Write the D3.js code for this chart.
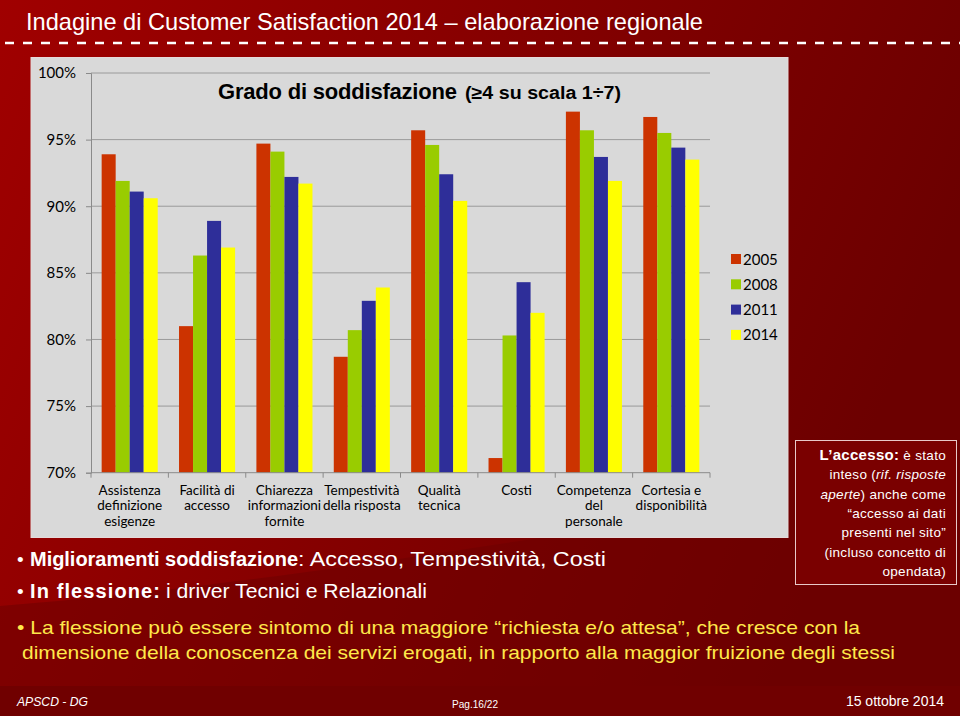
<!DOCTYPE html>
<html>
<head>
<meta charset="utf-8">
<script src="https://cdn.jsdelivr.net/npm/d3@7"></script>
<style>
  html, body { margin: 0; padding: 0; background: #7a0000; }
  svg { display: block; }
</style>
</head>
<body>
<div id="chart"></div>
<script>
// values (percent of answers >= 4)
const categories = [
  "Assistenza|definizione|esigenze",
  "Facilità di|accesso",
  "Chiarezza|informazioni|fornite",
  "Tempestività|della risposta",
  "Qualità|tecnica",
  "Costi",
  "Competenza|del|personale",
  "Cortesia e|disponibilità"
];
const years = ["2005", "2008", "2011", "2014"];
const v2005 = [93.9, 81.0, 94.7, 78.7, 95.7, 71.1, 97.1, 96.7];
const v2008 = [91.9, 86.3, 94.1, 80.7, 94.6, 80.3, 95.7, 95.5];
const v2011 = [91.1, 88.9, 92.2, 82.9, 92.4, 84.3, 93.7, 94.4];
const v2014 = [90.6, 86.9, 91.7, 83.9, 90.4, 82.0, 91.9, 93.5];
const yTicks = [70, 75, 80, 85, 90, 95, 100];
const colors = ["#cc3300", "#99cc00", "#2e2e99", "#ffff00"];

const series = [v2005, v2008, v2011, v2014];
const width = 960, height = 716;

const svg = d3.select("#chart").append("svg")
    .attr("width", width)
    .attr("height", height);

// background
const defs = svg.append("defs");
const bg = defs.append("linearGradient").attr("id", "bg")
    .attr("x1", "0").attr("y1", "0").attr("x2", "1").attr("y2", "0.3");
bg.append("stop").attr("offset", "0").attr("stop-color", "#a00000");
bg.append("stop").attr("offset", "0.55").attr("stop-color", "#830000");
bg.append("stop").attr("offset", "1").attr("stop-color", "#6c0000");
svg.append("rect").attr("width", width).attr("height", height).attr("fill", "url(#bg)");

// soft diagonal band behind the bullets
svg.append("path")
    .attr("d", "M0,606 C200,590 420,560 960,470 L960,716 L0,716 Z")
    .attr("fill", "#6e0000").attr("opacity", 0.55);
svg.append("rect").attr("x", 0).attr("y", 686).attr("width", width).attr("height", 30)
    .attr("fill", "#700000");

const sans = "'Liberation Sans', Arial, sans-serif";

// text squeezed/stretched to the width measured on the reference
function fitText(x, yy, str, len, size, color, opts) {
  opts = opts || {};
  return svg.append("text")
      .attr("x", x).attr("y", yy)
      .attr("fill", color)
      .attr("textLength", len)
      .attr("lengthAdjust", opts.glyphs ? "spacingAndGlyphs" : "spacing")
      .style("font-family", sans)
      .style("font-size", size + "px")
      .style("font-weight", opts.bold ? "bold" : "normal")
      .style("font-style", opts.italic ? "italic" : "normal")
      .text(str);
}

// header
fitText(26, 30, "Indagine di Customer Satisfaction 2014 – elaborazione regionale", 677, 24, "#fff", { glyphs: true });
svg.append("line")
    .attr("x1", 5).attr("x2", width).attr("y1", 43).attr("y2", 43)
    .attr("stroke", "#fff").attr("stroke-width", 2.5)
    .attr("stroke-dasharray", "9,9");

// chart panel
svg.append("rect")
    .attr("x", 31).attr("y", 57.5).attr("width", 757).attr("height", 480)
    .attr("fill", "#d9d9d9").attr("stroke", "#e6dada").attr("stroke-width", 1);

const x0 = d3.scaleBand().domain(categories).range([91, 710]);
const x1 = d3.scaleBand().domain(years).range([0, x0.bandwidth()]).paddingOuter(0.76);
const y = d3.scaleLinear().domain([70, 100]).range([472.7, 73]);

const calibri = "Lato, 'Open Sans', sans-serif";

// gridlines
svg.append("g").selectAll("line").data(yTicks.slice(1)).join("line")
    .attr("x1", 91).attr("x2", 710)
    .attr("y1", d => y(d)).attr("y2", d => y(d))
    .attr("stroke", "#9a9a9a").attr("stroke-width", 1);

// y axis
const yAxis = svg.append("g")
    .attr("transform", "translate(91,0)")
    .call(d3.axisLeft(y).tickValues(yTicks).tickFormat(d => d + "%").tickSize(5).tickPadding(10));
yAxis.select(".domain").attr("stroke", "#8a8a8a");
yAxis.selectAll(".tick line").attr("stroke", "#8a8a8a");
yAxis.selectAll(".tick text")
    .attr("fill", "#000")
    .style("font-family", calibri)
    .style("font-size", "15px");

// bars
const groups = svg.append("g").selectAll("g").data(categories).join("g")
    .attr("transform", d => "translate(" + x0(d) + ",0)");
groups.selectAll("rect")
    .data((d, i) => years.map((yr, k) => ({ yr: yr, v: series[k][i], k: k })))
    .join("rect")
    .attr("x", d => x1(d.yr))
    .attr("y", d => y(d.v))
    .attr("width", x1.bandwidth())
    .attr("height", d => y(70) - y(d.v))
    .attr("fill", d => colors[d.k]);

// x axis
const xAxisG = svg.append("g").attr("transform", "translate(0," + y(70) + ")");
xAxisG.append("line").attr("x1", 91).attr("x2", 710).attr("stroke", "#8a8a8a");
const bounds = categories.map(c => x0(c)).concat([x0(categories[categories.length - 1]) + x0.bandwidth()]);
xAxisG.selectAll(".tk").data(bounds).join("line").attr("class", "tk")
    .attr("x1", d => d).attr("x2", d => d).attr("y1", 0).attr("y2", 5)
    .attr("stroke", "#8a8a8a");
const labels = xAxisG.selectAll(".lbl").data(categories).join("text").attr("class", "lbl")
    .attr("x", d => x0(d) + x0.bandwidth() / 2)
    .attr("text-anchor", "middle")
    .attr("fill", "#000")
    .style("font-family", calibri)
    .style("font-size", "13.5px");
labels.selectAll("tspan").data(d => d.split("|")).join("tspan")
    .attr("x", function () { return d3.select(this.parentNode).attr("x"); })
    .attr("y", (d, i) => 22 + i * 15.5)
    .text(d => d);

// chart title
fitText(218, 99, "Grado di soddisfazione", 239, 22, "#000", { bold: true });
fitText(465, 99, "(≥4 su scala 1÷7)", 156, 18, "#000", { bold: true, glyphs: true });

// legend
const legend = svg.append("g").selectAll("g").data(years).join("g")
    .attr("transform", (d, i) => "translate(731," + (259 + i * 25.3) + ")");
legend.append("rect").attr("x", 0).attr("y", -5).attr("width", 10).attr("height", 10)
    .attr("fill", (d, i) => colors[i]);
legend.append("text").attr("x", 12).attr("y", 5.5)
    .style("font-family", calibri).style("font-size", "15px")
    .attr("fill", "#000")
    .text(d => d);

// note box
svg.append("rect")
    .attr("x", 795.5).attr("y", 440.5).attr("width", 161).attr("height", 144)
    .attr("fill", "#7a0000").attr("stroke", "#e8c8c8").attr("stroke-width", 1);
const noteLines = [
  [["L’accesso:", "b"], [" è stato", ""]],
  [["inteso (", ""], ["rif. risposte", "i"]],
  [["aperte", "i"], [") anche come", ""]],
  [["“accesso ai dati", ""]],
  [["presenti nel sito”", ""]],
  [["(incluso concetto di", ""]],
  [["opendata)", ""]]
];
noteLines.forEach((ln, i) => {
  const t = svg.append("text")
      .attr("x", 946).attr("y", 460 + i * 19.3)
      .attr("text-anchor", "end")
      .attr("fill", "#fff")
      .style("font-family", sans)
      .style("font-size", "13.5px")
      .style("letter-spacing", "0.3px");
  ln.forEach(p => {
    t.append("tspan")
        .style("font-weight", p[1] === "b" ? "bold" : "normal")
        .style("font-style", p[1] === "i" ? "italic" : "normal")
        .style("font-size", p[1] === "b" ? "15px" : null)
        .text(p[0]);
  });
});

// bullets
fitText(17, 566, "•", 7, 19, "#fff");
fitText(30, 566, "Miglioramenti soddisfazione", 268, 20, "#fff", { bold: true });
fitText(298, 566, ": Accesso, Tempestività, Costi", 308, 20, "#fff", { glyphs: true });
fitText(17, 598, "•", 7, 19, "#fff");
fitText(30, 598, "In flessione:", 130, 20, "#fff", { bold: true });
fitText(166, 598, "i driver Tecnici e Relazionali", 261, 20, "#fff", { glyphs: true });
fitText(17, 634, "• La flessione può essere sintomo di una maggiore “richiesta e/o attesa”, che cresce con la", 843, 19, "#ffe84a", { glyphs: true });
fitText(22, 659, "dimensione della conoscenza dei servizi erogati, in rapporto alla maggior fruizione degli stessi", 873, 19, "#ffe84a", { glyphs: true });

// footer
fitText(17, 706, "APSCD - DG", 71, 13, "#fff", { italic: true, glyphs: true });
fitText(452, 708, "Pag.16/22", 46, 10, "#fff", { glyphs: true });
svg.append("text").attr("x", 944).attr("y", 706).attr("text-anchor", "end")
    .attr("fill", "#fff").style("font-family", sans).style("font-size", "14px")
    .text("15 ottobre 2014");
</script>
</body>
</html>
